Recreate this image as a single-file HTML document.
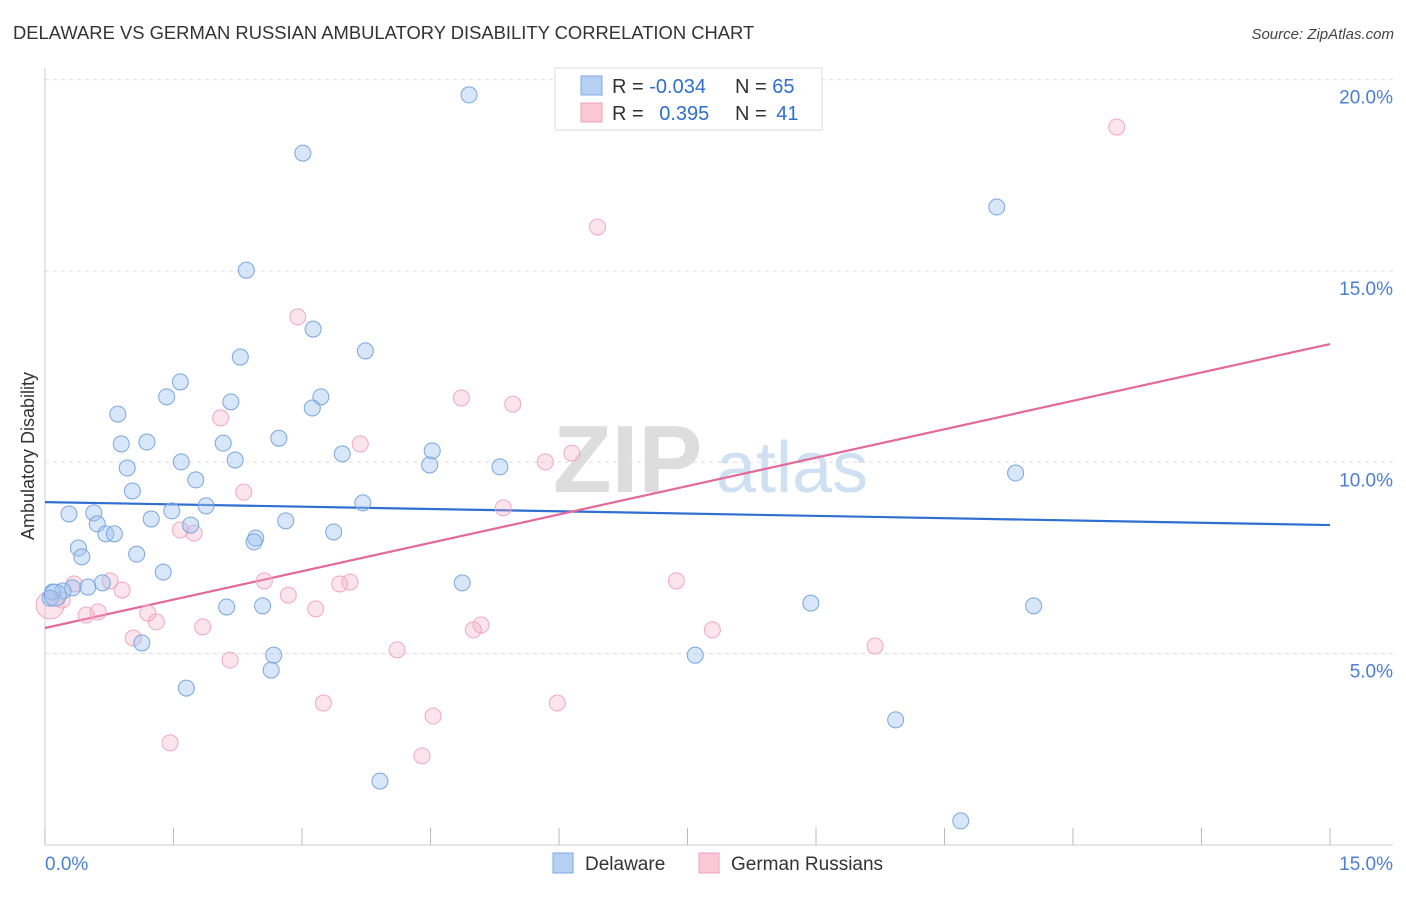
<!DOCTYPE html>
<html><head><meta charset="utf-8"><style>
body{margin:0;background:#fff;font-family:"Liberation Sans",sans-serif;}
svg text{font-family:"Liberation Sans",sans-serif;}
</style></head><body>
<svg id="chart" width="1406" height="892" xmlns="http://www.w3.org/2000/svg">
<text x="13" y="39" font-size="18.4" fill="#333">DELAWARE VS GERMAN RUSSIAN AMBULATORY DISABILITY CORRELATION CHART</text>
<text x="1394" y="39" font-size="15" fill="#444" font-style="italic" text-anchor="end">Source: ZipAtlas.com</text>
<g>
<text x="553" y="492" font-size="96" font-family="Liberation Serif" fill="#ddd" font-weight="bold">ZIP</text>
<text x="716" y="492" font-size="72" fill="#cfe0f3">atlas</text>
</g>
<g id="grid"></g>
<g id="axes"></g>
<text transform="translate(34,456) rotate(-90)" font-size="18" fill="#333" text-anchor="middle">Ambulatory Disability</text>
<g id="lines"></g>
<g id="points"></g>
<g>
<rect x="555" y="68" width="267" height="62" fill="#fff" stroke="#ddd"/>
<rect x="581" y="76" width="21" height="19" fill="#b5d0f3" stroke="#7fa9e0"/>
<rect x="581" y="103" width="21" height="19" fill="#f9c7d6" stroke="#eea0bb"/>
<text x="612" y="93" font-size="20" fill="#333">R = <tspan fill="#2e6fd1">-0.034</tspan></text>
<text x="735" y="93" font-size="20" fill="#333">N = <tspan fill="#2e6fd1">65</tspan></text>
<text x="612" y="120" font-size="20" fill="#333">R = <tspan fill="#2e6fd1" dx="10">0.395</tspan></text>
<text x="735" y="120" font-size="20" fill="#333">N = <tspan fill="#2e6fd1" dx="4">41</tspan></text>
</g>
<g>
<rect x="553" y="853" width="20" height="20" fill="#b5d0f3" stroke="#7fa9e0"/>
<text x="585" y="870" font-size="19" fill="#333">Delaware</text>
<rect x="699" y="853" width="20" height="20" fill="#f9c7d6" stroke="#eea0bb"/>
<text x="731" y="870" font-size="19" fill="#333">German Russians</text>
</g>
</svg>
<script>
const yTicks=[5,10,15,20];
const yTickLabels=["5.0%","10.0%","15.0%","20.0%"];
const xTicks=[0,1.5,3,4.5,6,7.5,9,10.5,12,13.5,15];
const xTickLabels=["0.0%","15.0%"];
const blueX=[4.95,3.01,11.11,2.35,3.13,3.74,2.28,1.58,3.22,1.42,2.17,3.12,0.85,2.73,0.89,1.19,2.08,4.52,3.47,1.59,2.22,4.49,5.31,0.96,11.33,1.76,1.02,3.71,1.88,0.28,0.57,1.48,1.24,2.81,0.61,1.70,3.37,0.71,0.81,2.46,2.44,0.39,1.07,0.43,1.38,4.87,0.67,0.50,0.32,0.21,0.09,0.06,8.94,11.54,2.54,2.12,1.13,2.67,7.59,2.64,1.65,9.93,3.91,10.69,0.12];
const blueY=[19.60,18.08,16.67,15.02,13.48,12.91,12.75,12.10,11.71,11.71,11.58,11.42,11.26,10.63,10.48,10.53,10.50,10.30,10.22,10.01,10.06,9.93,9.88,9.85,9.72,9.54,9.25,8.94,8.86,8.65,8.68,8.73,8.52,8.47,8.39,8.36,8.18,8.13,8.13,8.02,7.92,7.76,7.60,7.53,7.13,6.85,6.85,6.74,6.72,6.64,6.61,6.45,6.32,6.25,6.25,6.22,5.28,4.96,4.96,4.57,4.10,3.27,1.67,0.63,6.53];
const pinkX=[12.51,6.45,2.95,4.86,5.46,2.05,3.68,6.15,5.84,2.32,5.35,1.58,1.74,7.37,0.76,2.56,3.56,3.44,0.34,0.90,2.84,0.20,1.20,3.16,0.62,0.48,1.30,1.84,5.09,5.00,7.79,1.03,9.69,4.11,2.16,3.25,5.98,4.53,1.46,4.40,0.06];
const pinkY=[18.76,16.15,13.80,11.68,11.52,11.16,10.48,10.24,10.01,9.22,8.81,8.23,8.15,6.90,6.90,6.90,6.87,6.82,6.82,6.66,6.53,6.40,6.06,6.17,6.09,6.01,5.83,5.70,5.75,5.62,5.62,5.41,5.20,5.10,4.83,3.71,3.71,3.37,2.67,2.33,6.27];
const blueTrend=[8.96,8.36];
const pinkTrend=[5.67,13.09];
const NS="http://www.w3.org/2000/svg";
const sx=v=>45+v*(1285/15);
const sy=v=>845-v*38.27;
function mk(parent,tag,attrs){const e=document.createElementNS(NS,tag);for(const k in attrs)e.setAttribute(k,attrs[k]);parent.appendChild(e);return e;}
const grid=document.getElementById('grid'),axes=document.getElementById('axes');
yTicks.forEach((t,i)=>{
 const l=mk(grid,'line',{x1:45,x2:1393,y1:sy(t),y2:sy(t),stroke:'#ddd','stroke-dasharray':'4,4'});
 
 
 const tx=mk(axes,'text',{x:1393,y:sy(t)+24,'font-size':19,fill:'#4a7fd4','text-anchor':'end'});
 tx.textContent=yTickLabels[i];
 
 
});
const ax=mk(axes,'line',{x1:45,x2:45,y1:68,y2:845,stroke:'#ccc'});


const bx=mk(axes,'line',{x1:45,x2:1393,y1:845,y2:845,stroke:'#ccc'});


xTicks.forEach(t=>{
 const l=mk(axes,'line',{x1:sx(t),x2:sx(t),y1:828,y2:845,stroke:'#bbb'});
 
 
});
const xl0=mk(axes,'text',{x:45,y:870,'font-size':19,fill:'#4a7fd4'});
xl0.textContent=xTickLabels[0];


const xl1=mk(axes,'text',{x:1393,y:870,'font-size':19,fill:'#4a7fd4','text-anchor':'end'});
xl1.textContent=xTickLabels[1];


const pts=document.getElementById('points');
pinkX.forEach((x,i)=>{
 const c=mk(pts,'circle',{cx:sx(x),cy:sy(pinkY[i]),r:(i==pinkX.length-1?14:8),fill:'rgba(245,170,195,0.32)',stroke:'#f0a8c0','stroke-width':1});
 
 
});
blueX.forEach((x,i)=>{
 const c=mk(pts,'circle',{cx:sx(x),cy:sy(blueY[i]),r:(i==blueX.length-1?11:8),fill:'rgba(160,196,240,0.42)',stroke:'#7aa6e0','stroke-width':1});
 
 
});
const lines=document.getElementById('lines');
const tb=mk(lines,'line',{x1:sx(0),x2:sx(15),y1:sy(blueTrend[0]),y2:sy(blueTrend[1]),stroke:'#2e6fd1','stroke-width':2.2});


const tp=mk(lines,'line',{x1:sx(0),x2:sx(15),y1:sy(pinkTrend[0]),y2:sy(pinkTrend[1]),stroke:'#e4699a','stroke-width':2.2});


</script>
</body></html>
